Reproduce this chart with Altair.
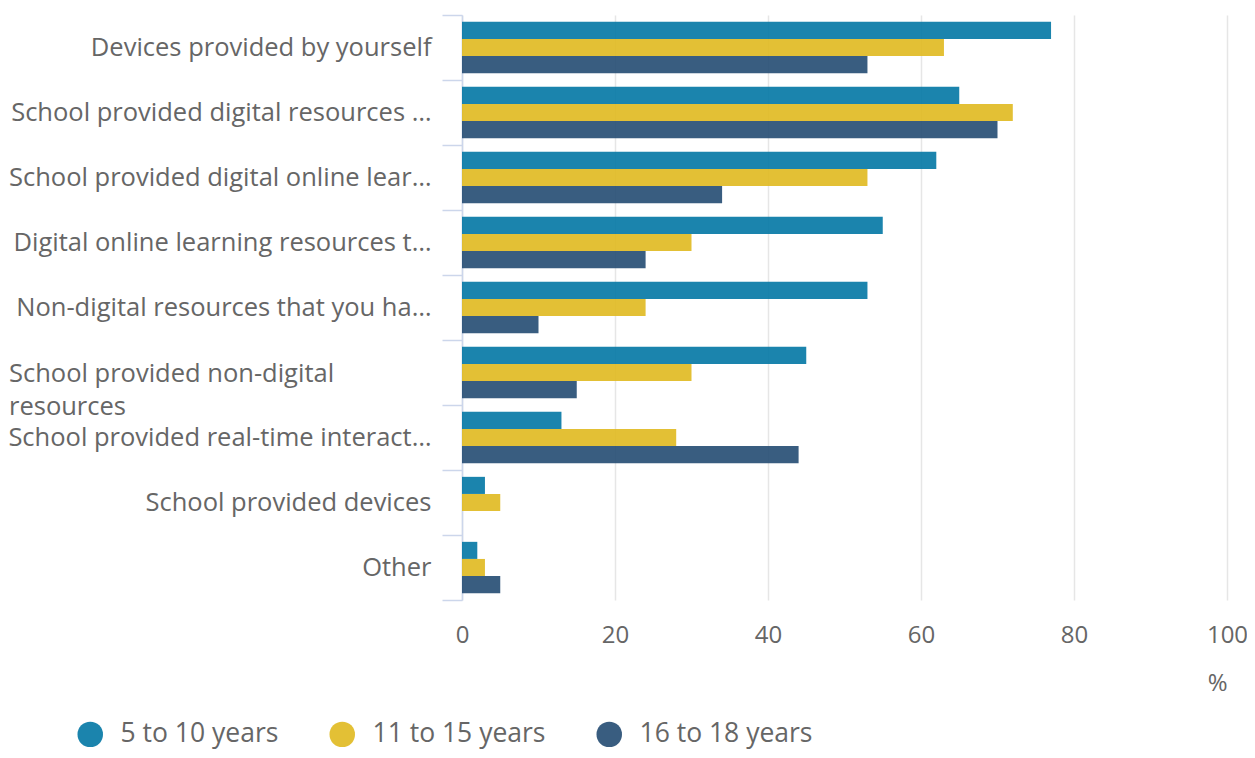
import altair as alt
import pandas as pd

categories = [
    "Devices provided by yourself",
    "School provided digital resources …",
    "School provided digital online lear…",
    "Digital online learning resources t…",
    "Non-digital resources that you ha…",
    "School provided non-digital resources",
    "School provided real-time interact…",
    "School provided devices",
    "Other",
]
series = ["5 to 10 years", "11 to 15 years", "16 to 18 years"]
v_5_10 = [77, 65, 62, 55, 53, 45, 13, 3, 2]
v_11_15 = [63, 72, 53, 30, 24, 30, 28, 5, 3]
v_16_18 = [53, 70, 34, 24, 10, 15, 44, 0, 5]
colors = ["#0277a4", "#e0b91f", "#244b72"]
x_ticks = [0, 20, 40, 60, 80, 100]

WRAP_CAT = "School provided non-digital resources"
wrap_text = "School provided non-digital\nresources"

rows = []
for s, vals in zip(series, [v_5_10, v_11_15, v_16_18]):
    for c, v in zip(categories, vals):
        rows.append({"category": c, "series": s, "value": v})
df = pd.DataFrame(rows)

LABEL_COLOR = "#666666"
PLOT_W = 765
LEFT = 454

y_axis = alt.Axis(
    title=None,
    tickBand="extent",
    tickSize=20,
    tickWidth=1.5,
    tickColor="#ccd6eb",
    domainColor="#ccd6eb",
    domainWidth=1.5,
    labelFontSize=25.5,
    labelColor=LABEL_COLOR,
    labelPadding=11,
    labelLimit=600,
    labelExpr=f"datum.value == '{WRAP_CAT}' ? '' : datum.value",
)

bars = alt.Chart(df).mark_bar(opacity=0.9).encode(
    x=alt.X(
        "value:Q",
        scale=alt.Scale(domain=[0, 100], nice=False),
        axis=alt.Axis(
            values=x_ticks,
            grid=True,
            gridColor="#e6e6e6",
            gridWidth=1.5,
            domain=False,
            ticks=False,
            labelFlush=False,
            labelFontSize=24,
            labelColor=LABEL_COLOR,
            labelPadding=23,
            title="%",
            titleFontSize=24,
            titleFontWeight="normal",
            titleColor=LABEL_COLOR,
            titleAlign="right",
            titleBaseline="middle",
            titleX=PLOT_W,
            titleY=83,
        ),
    ),
    y=alt.Y("category:N", sort=categories,
            scale=alt.Scale(paddingInner=0, paddingOuter=0), axis=y_axis),
    yOffset=alt.YOffset(
        "series:N", sort=series, scale=alt.Scale(paddingOuter=0.4, paddingInner=0)
    ),
    color=alt.Color(
        "series:N",
        sort=series,
        scale=alt.Scale(domain=series, range=colors),
        legend=alt.Legend(
            title=None,
            orient="none",
            direction="horizontal",
            legendX=77 - 8 - LEFT,
            legendY=706,
            symbolType="circle",
            symbolSize=650,
            symbolStrokeWidth=0,
            symbolOpacity=0.9,
            labelFontSize=26.5,
            labelColor="#666666",
            labelOffset=17,
            labelLimit=400,
            columnPadding=50,
            padding=0,
        ),
    ),
)

wrap_df = pd.DataFrame({"category": [WRAP_CAT], "label": [wrap_text]})
wrap_label = alt.Chart(wrap_df).mark_text(
    align="left",
    baseline="alphabetic",
    dy=9,
    lineBreak="\n",
    lineHeight=33,
    fontSize=25.5,
    color=LABEL_COLOR,
).encode(
    x=alt.value(9 - 8 - LEFT),
    y=alt.Y("category:N", sort=categories, axis=y_axis),
    text="label:N",
)

chart = (
    alt.layer(bars, wrap_label)
    .properties(
        width=PLOT_W,
        height=585,
        autosize=alt.AutoSizeParams(type="none"),
        padding={"left": LEFT, "top": 7, "right": 1239 - LEFT - PLOT_W, "bottom": 150},
    )
    .configure(font="Open Sans")
    .configure_view(stroke=None)
)

chart.save("out.html", embed_options={"renderer": "svg", "actions": False})
